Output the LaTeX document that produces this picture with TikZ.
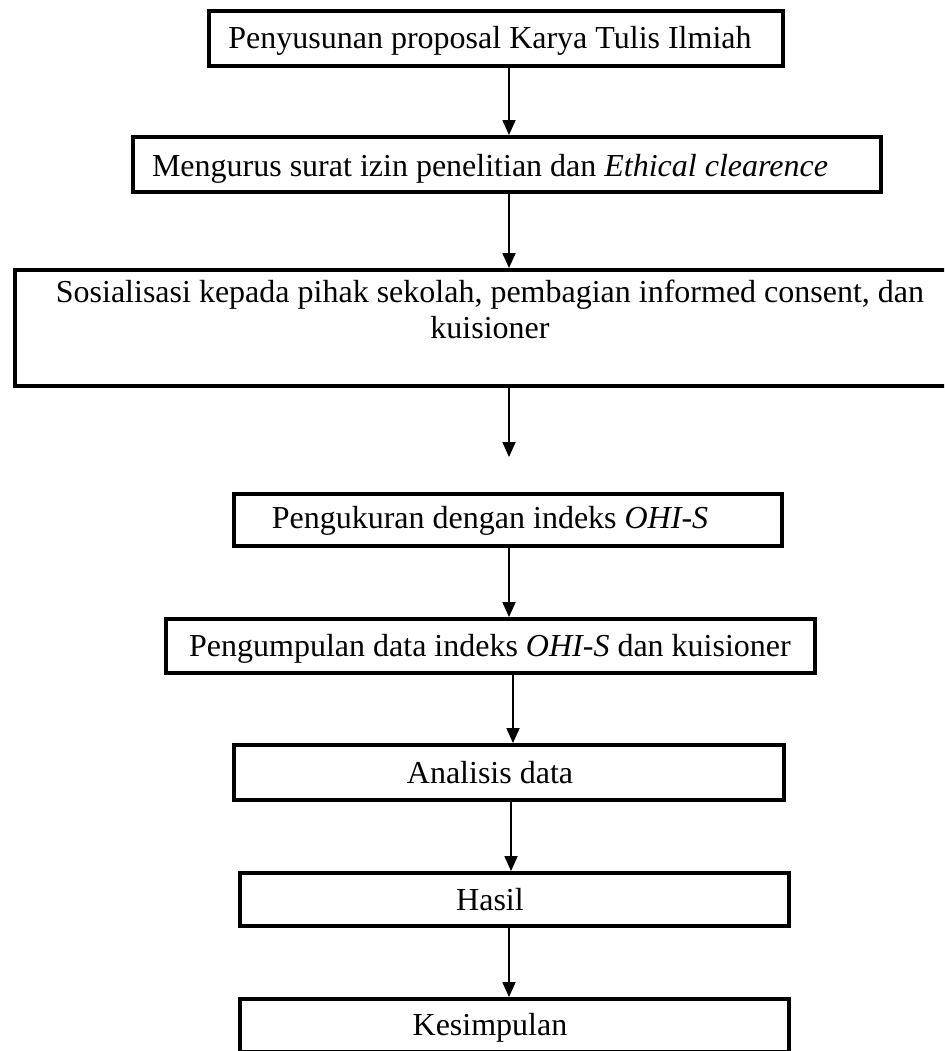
\documentclass[tikz,border=0pt]{standalone}
\usepackage{fontspec}
\setmainfont{Liberation Serif}
\usetikzlibrary{arrows.meta,positioning}

\begin{document}
\begin{tikzpicture}[
    x=0.5pt, y=-0.5pt,
    flowbox/.style={rectangle, draw, line width=2.2pt, minimum width=#1, minimum height=27.25pt, inner sep=0pt},
    boxtext/.style={inner sep=0pt, anchor=base, font=\fontsize{16pt}{18pt}\selectfont},
    flowarrow/.style={line width=0.9pt, -{Triangle[width=6.5pt,length=7.5pt]}}
]
    \useasboundingbox (0,0) rectangle (944,1051);
    \clip (0,0) rectangle (944,1051);

    % Proposal
    \node[flowbox=286.75pt] (b1) at (496,38.5) {};
    \node[boxtext] (t1) at (490,48) {Penyusunan proposal Karya Tulis Ilmiah};

    % Izin
    \node[flowbox=373.75pt] (b2) at (507,164.5) {};
    \node[boxtext] (t2) at (490,176) {Mengurus surat izin penelitian dan \textit{Ethical clearence}};

    % Sosialisasi
    \node[flowbox=474.75pt, minimum height=57.75pt] (b3) at (490,328) {};
    \node[boxtext, anchor=center, align=center] (t3) at (490,309) {Sosialisasi kepada pihak sekolah, pembagian informed consent, dan\\kuisioner};

    % Pengukuran
    \node[flowbox=273.75pt, minimum height=25.75pt] (b4) at (508,520) {};
    \node[boxtext] (t4) at (490,528) {Pengukuran dengan indeks \textit{OHI-S}};

    % Pengumpulan
    \node[flowbox=324.25pt, minimum height=26.75pt] (b5) at (490.5,646) {};
    \node[boxtext] (t5) at (490,656) {Pengumpulan data indeks \textit{OHI-S} dan kuisioner};

    % Analisis
    \node[flowbox=274.75pt] (b6) at (509,772.5) {};
    \node[boxtext] (t6) at (490,783) {Analisis data};

    % Hasil
    \node[flowbox=274.25pt, minimum height=26.25pt] (b7) at (514.5,899.5) {};
    \node[boxtext] (t7) at (490,910) {Hasil};

    % Kesimpulan
    \node[flowbox=274.25pt, minimum height=26.25pt] (b8) at (514.5,1025.5) {};
    \node[boxtext] (t8) at (490,1035) {Kesimpulan};

    % Arrows
    \foreach \from/\to/\ax in {b1/b2/509, b2/b3/509, b4/b5/509, b5/b6/513, b6/b7/511, b7/b8/509} {
        \draw[flowarrow] (\from.south -| \ax,0) -- (\to.north -| \ax,0);
    }
    \coordinate (gap) at (509,457);
    \draw[flowarrow] (b3.south -| gap) -- (gap);
\end{tikzpicture}
\end{document}
